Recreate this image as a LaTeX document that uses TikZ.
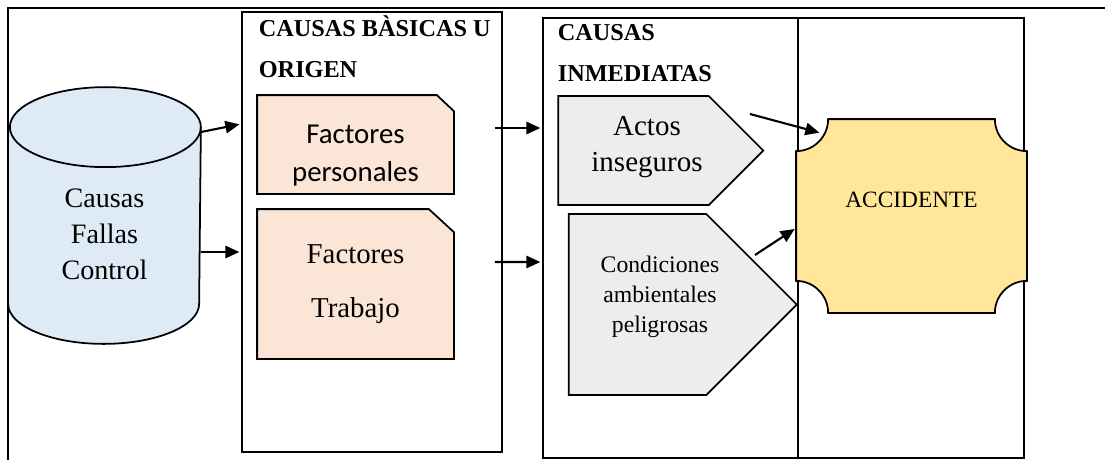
\documentclass[tikz,border=0pt]{standalone}
\usepackage{fontspec}
\setmainfont{Liberation Serif}
\newfontfamily\calibri{Carlito}
\usepackage{tikz}
\usetikzlibrary{arrows.meta, shapes.symbols, backgrounds}
\definecolor{dbblue}{HTML}{DEEBF7}
\definecolor{peach}{HTML}{FBE5D6}
\definecolor{grisclaro}{HTML}{EDEDED}
\definecolor{amarillo}{HTML}{FFE699}

\begin{document}
\begin{tikzpicture}[line width=1pt,
   columna/.style={draw, rectangle, minimum height=8.8cm, inner sep=0pt},
   titulo/.style={anchor=north west, align=left, inner sep=0pt, font=\bfseries\fontsize{13.8}{23}\selectfont},
   factor/.style={rectangle, minimum width=3.9cm, align=center},
   fondofactor/.style={draw=black, line width=1pt, fill=peach},
   causa/.style={draw, fill=grisclaro, signal, signal to=east, signal pointer angle=90, inner sep=0pt},
   flecha/.style={-{Triangle[length=8pt,width=7pt]}, line width=1.2pt, shorten >=1pt}]
   \useasboundingbox (0,0) rectangle (22.1,-9.2);

   % 定义表格与列
   \draw (22.1,-0.16) -- (0.16,-0.16) -- (0.16,-9.2);
   \node[columna, minimum width=5.2cm] (basicas) at (7.44,-4.64) {};
   \node[columna, minimum width=5.1cm] (inmed) at (13.41,-4.76) {};
   \node[columna, minimum width=4.52cm] (final) at (18.22,-4.76) {};
   \node[titulo] (tbasicas) at (5.16,-0.3) {CAUSAS BÀSICAS U\\ORIGEN};
   \node[titulo] (tinmed) at (11.14,-0.48) {CAUSAS\\INMEDIATAS};

   % 定义节点
   \node[minimum width=3.82cm, minimum height=5.1cm, inner sep=0pt] (db) at (2.09,-4.31) {};
   \draw[fill=dbblue] ([yshift=-0.8cm]db.north west) -- ([yshift=0.8cm]db.south west)
      arc (180:360:1.91 and 0.8) -- ([yshift=-0.8cm]db.north east) arc (0:180:1.91 and 0.8) -- cycle;
   \draw ([yshift=-0.8cm]db.north east) arc (0:-180:1.91 and 0.8);
   \node[align=center, font=\fontsize{16}{20.5}\selectfont] (dbtxt) at (2.09,-4.68) {Causas\\Fallas\\Control};
   \node[factor, minimum height=1.94cm,
      label={[align=center, yshift=-0.22cm, font=\calibri\fontsize{16.4}{22}\selectfont]center:Factores\\personales}]
      (pers) at (7.11,-2.89) {};
   \node[factor, minimum height=2.96cm, font=\fontsize{16.4}{30.6}\selectfont] (trab) at (7.11,-5.68)
      {Factores\\Trabajo};
   \begin{scope}[on background layer]
      \draw[fondofactor] (pers.south west) -- (pers.north west) -- ([xshift=-0.34cm]pers.north east)
         -- ([yshift=-0.32cm]pers.north east) -- (pers.south east) -- cycle;
      \draw[fondofactor] (trab.south west) -- (trab.north west) -- ([xshift=-0.5cm]trab.north east)
         -- ([yshift=-0.46cm]trab.north east) -- (trab.south east) -- cycle;
   \end{scope}
   \node[causa, minimum width=4.1cm, minimum height=2.18cm,
      label={[align=center, shift={(0.27,0.07)}, font=\fontsize{16.5}{20.5}\selectfont]center:Actos\\inseguros}]
      (actos) at (12.67,-3.01) {};
   \node[causa, minimum width=4.56cm, minimum height=3.62cm,
      label={[align=center, shift={(0.45,0.16)}, font=\fontsize{13.5}{17}\selectfont]center:Condiciones\\ambientales\\peligrosas}]
      (cond) at (12.75,-6.09) {};
   \node[minimum width=4.58cm, minimum height=3.84cm, inner sep=0pt] (acc) at (18.23,-4.32) {};
   \draw[fill=amarillo] ([xshift=0.64cm]acc.north west) -- ([xshift=-0.64cm]acc.north east)
      arc (180:270:0.64) -- ([yshift=0.64cm]acc.south east) arc (90:180:0.64)
      -- ([xshift=0.64cm]acc.south west) arc (0:90:0.64)
      -- ([yshift=-0.64cm]acc.north west) arc (270:360:0.64) -- cycle;
   \node[font=\fontsize{13.3}{16}\selectfont] (tacc) at ([yshift=0.32cm]acc.center) {ACCIDENTE};

   % 绘制箭头
   \draw[flecha] ([yshift=1.67cm]db.east) -- ([yshift=2.16cm]basicas.west);
   \draw[flecha] ([yshift=-0.73cm]db.east) -- ([yshift=-0.4cm]basicas.west);
   \draw[flecha] ([xshift=-0.16cm, yshift=2.08cm]basicas.east) -- ([yshift=2.2cm]inmed.west);
   \draw[flecha] ([xshift=-0.16cm, yshift=-0.6cm]basicas.east) -- ([yshift=-0.48cm]inmed.west);
   \draw[flecha] ([shift={(2.33,0.73)}]actos.center) -- ([shift={(0.5,-0.28)}]acc.north west);
   \draw[flecha] ([shift={(2.35,0.99)}]cond.center) -- ([yshift=-0.24cm]acc.west);
\end{tikzpicture}
\end{document}
